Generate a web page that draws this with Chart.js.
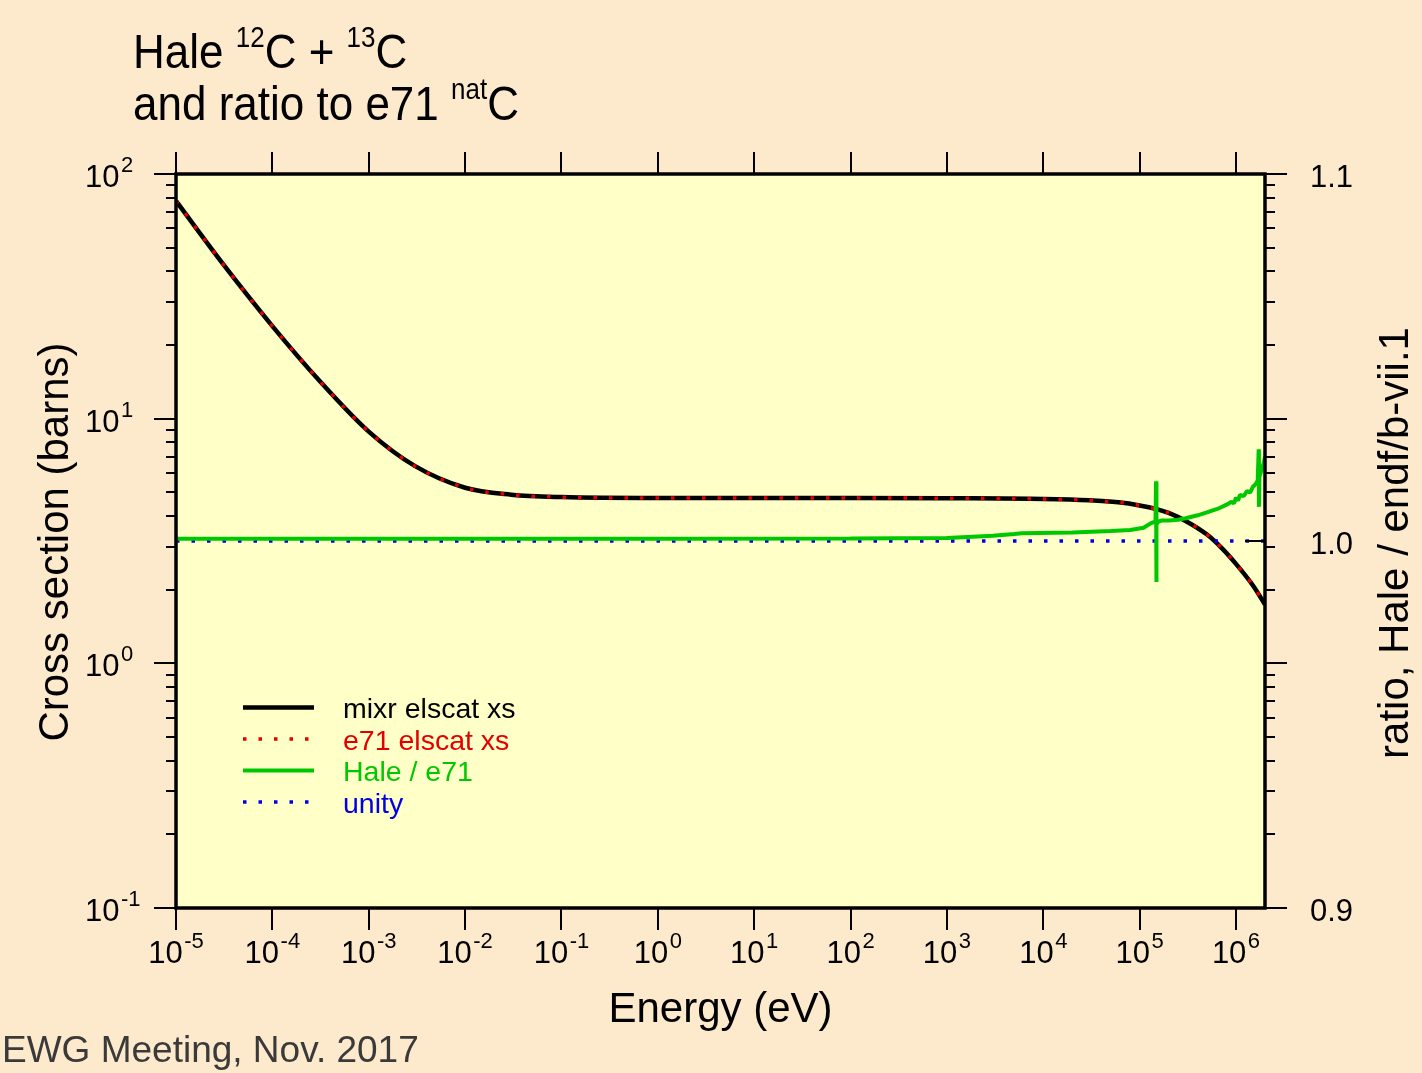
<!DOCTYPE html>
<html>
<head>
<meta charset="utf-8">
<title>Hale 12C + 13C and ratio to e71 natC</title>
<script src="https://cdn.jsdelivr.net/npm/chart.js@4/dist/chart.umd.min.js"></script>
<style>
  html, body { margin: 0; padding: 0; background: #fde9cc; }
  #wrap { position: relative; width: 1422px; height: 1073px; overflow: hidden; background: #fde9cc; }
  #c { position: absolute; left: 0; top: 0; }
  #title {
    position: absolute; left: 133px; top: 25px;
    font-family: "Liberation Sans", Arial, Helvetica, sans-serif;
    font-size: 44px; line-height: 47.3px; color: #000; white-space: nowrap;
    transform: scaleY(1.1); transform-origin: 0 0;
  }
  #title .sup { position: relative; top: -19px; font-size: 26px; line-height: 0; }
  #footer {
    position: absolute; left: 2px; top: 1030px;
    font-family: "Liberation Sans", Arial, Helvetica, sans-serif;
    font-size: 37px; line-height: 40px; color: #3a3a3a; white-space: nowrap;
  }
</style>
</head>
<body>
<div id="wrap">
  <canvas id="c" width="1422" height="1073" style="width:1422px;height:1073px"></canvas>
  <div id="title">
    <div>Hale <span class="sup">12</span>C + <span class="sup">13</span>C</div>
    <div>and ratio to e71 <span class="sup">nat</span>C</div>
  </div>
  <div id="footer">EWG Meeting, Nov. 2017</div>
</div>
<script>
// Elastic scattering cross section (barns) vs incident energy (eV)
const energyEV = [1e-5, 3e-5, 1e-4, 3e-4, 1e-3, 3e-3, 1e-2, 3e-2, 1e-1,
                  1, 10, 100, 1e3, 1e4, 3e4, 6e4, 1e5, 1.5e5, 2e5, 3e5, 5e5, 7e5, 1e6, 1.5e6, 2e6];
const mixrElscatXs = [77.6, 43.4, 23.9, 14.45, 8.85, 6.41, 5.22, 4.89, 4.78,
                      4.74, 4.74, 4.74, 4.73, 4.70, 4.64, 4.55, 4.42, 4.27, 4.12, 3.82, 3.36, 2.98, 2.55, 2.08, 1.74];
const e71ElscatXs  = [77.6, 43.4, 23.9, 14.45, 8.85, 6.41, 5.22, 4.89, 4.78,
                      4.74, 4.74, 4.74, 4.73, 4.70, 4.64, 4.55, 4.42, 4.27, 4.12, 3.82, 3.36, 2.98, 2.55, 2.08, 1.74];

// Hale / e71 ratio
const ratioEnergyEV = [1e-5, 1e-2, 1, 100, 1e3, 3e3, 5e3, 6e3, 2e4, 5e4, 8e4, 1.1e5, 1.3e5, 1.42e5, 1.46e5,
                       1.48e5, 1.49e5, 1.5e5, 1.55e5, 1.7e5, 2e5, 2.5e5, 3e5, 4e5, 5e5, 6.5e5, 8e5,
                       9e5, 9.5e5, 1.0e6, 1.05e6, 1.1e6, 1.2e6, 1.3e6, 1.4e6, 1.5e6, 1.6e6, 1.68e6,
                       1.72e6, 1.73e6, 1.75e6, 1.85e6, 1.95e6, 2e6];
const haleOverE71 = [1.0006, 1.0006, 1.0006, 1.0007, 1.0008, 1.0014, 1.0019, 1.0021, 1.0023, 1.0027, 1.0030, 1.0036, 1.0048, 1.0052, 1.0050,
                     1.0163, 0.9888, 1.0045, 1.0052, 1.0056, 1.0056, 1.0058, 1.0062, 1.0070, 1.0078, 1.0088, 1.0099,
                     1.0107, 1.0102, 1.0118, 1.0110, 1.0126, 1.0122, 1.0136, 1.0132, 1.0148, 1.0155, 1.0165,
                     1.0250, 1.0093, 1.0175, 1.0195, 1.0215, 1.0230];

// Reference line at ratio 1
const unityEnergyEV = [1e-5, 2e6];
const unityRatio = [1.0, 1.0];

// Axis ticks
const energyTickExponents = [-5, -4, -3, -2, -1, 0, 1, 2, 3, 4, 5, 6];
const xsTickExponents = [-1, 0, 1, 2];
const ratioTicks = [0.9, 1.0, 1.1];

const seriesNames = ['mixr elscat xs', 'e71 elscat xs', 'Hale / e71', 'unity'];

const FONT = '"Liberation Sans", Arial, Helvetica, sans-serif';
const PLOT_BG = '#ffffc8';
const BLACK = '#000000', RED = '#e30000', GREEN = '#00c800', BLUE = '#0000e6';

const pts = (xs, ys) => xs.map((x, i) => ({ x, y: ys[i] }));

// "10" with a raised exponent
function powLabel(ctx, exp, x, y, align) {
  const base = '10', sup = String(exp);
  ctx.font = '31px ' + FONT;
  const wb = ctx.measureText(base).width;
  ctx.font = '22px ' + FONT;
  const ws = ctx.measureText(sup).width;
  const gap = 1.5;
  const x0 = align === 'center' ? x - (wb + gap + ws) / 2 : x;
  ctx.textAlign = 'left';
  ctx.textBaseline = 'alphabetic';
  ctx.font = '31px ' + FONT;
  ctx.fillText(base, x0, y);
  ctx.font = '22px ' + FONT;
  ctx.fillText(sup, x0 + wb + gap, y - 15);
}

const framePlugin = {
  id: 'plotFrame',
  beforeDatasetsDraw(chart) {
    const { ctx, chartArea: a } = chart;
    ctx.save();
    ctx.fillStyle = PLOT_BG;
    ctx.fillRect(a.left, a.top, a.right - a.left, a.bottom - a.top);
    ctx.restore();
  },
  afterDatasetsDraw(chart) {
    const { ctx, chartArea: a } = chart;
    const { x, y, y2 } = chart.scales;
    ctx.save();
    ctx.strokeStyle = '#000';
    ctx.lineWidth = 2;
    ctx.lineCap = 'butt';
    ctx.setLineDash([]);
    ctx.beginPath();
    // energy decades, outward on bottom and top
    energyTickExponents.forEach(e => {
      const px = Math.round(x.getPixelForValue(Math.pow(10, e)));
      ctx.moveTo(px, a.bottom); ctx.lineTo(px, a.bottom + 22);
      ctx.moveTo(px, a.top); ctx.lineTo(px, a.top - 22);
    });
    // cross-section decades and minors, outward on both sides
    xsTickExponents.forEach((e, i) => {
      const py = Math.round(y.getPixelForValue(Math.pow(10, e)));
      ctx.moveTo(a.left - 22, py); ctx.lineTo(a.left, py);
      ctx.moveTo(a.right, py); ctx.lineTo(a.right + 22, py);
      if (i < xsTickExponents.length - 1) {
        for (let m = 2; m <= 9; m++) {
          const pm = Math.round(y.getPixelForValue(m * Math.pow(10, e)));
          ctx.moveTo(a.left - 10, pm); ctx.lineTo(a.left, pm);
          ctx.moveTo(a.right, pm); ctx.lineTo(a.right + 10, pm);
        }
      }
    });
    // ratio ticks, inward on the right
    ratioTicks.forEach(r => {
      const py = Math.round(y2.getPixelForValue(r));
      ctx.moveTo(a.right - 20, py); ctx.lineTo(a.right, py);
    });
    ctx.stroke();

    // frame
    ctx.lineWidth = 3.5;
    ctx.strokeRect(a.left, a.top, a.right - a.left, a.bottom - a.top);

    // tick labels
    ctx.fillStyle = '#000';
    energyTickExponents.forEach(e => {
      powLabel(ctx, e, x.getPixelForValue(Math.pow(10, e)), a.bottom + 55, 'center');
    });
    xsTickExponents.forEach(e => {
      powLabel(ctx, e, 85, y.getPixelForValue(Math.pow(10, e)) + 13, 'left');
    });
    ctx.font = '31px ' + FONT;
    ctx.textAlign = 'left';
    ctx.textBaseline = 'alphabetic';
    ratioTicks.forEach(r => {
      ctx.fillText(r.toFixed(1), 1310, y2.getPixelForValue(r) + 13);
    });

    // axis titles
    ctx.font = '42px ' + FONT;
    ctx.textAlign = 'center';
    ctx.fillText('Energy (eV)', (a.left + a.right) / 2, 1022);
    const midY = (a.top + a.bottom) / 2;
    ctx.save();
    ctx.translate(68, midY + 1);
    ctx.rotate(-Math.PI / 2);
    ctx.fillText('Cross section (barns)', 0, 0);
    ctx.restore();
    ctx.save();
    ctx.translate(1408, midY + 2);
    ctx.rotate(-Math.PI / 2);
    ctx.fillText('ratio, Hale / endf/b-vii.1', 0, 0);
    ctx.restore();

    // legend, styled from the datasets
    chart.data.datasets.forEach((ds, i) => {
      const rowY = 707.5 + i * 31.5;
      ctx.save();
      ctx.strokeStyle = ds.borderColor;
      ctx.lineWidth = ds.borderWidth;
      ctx.setLineDash(ds.borderDash || []);
      ctx.beginPath();
      ctx.moveTo(243, rowY);
      ctx.lineTo(314, rowY);
      ctx.stroke();
      ctx.restore();
      ctx.fillStyle = ds.borderColor;
      ctx.font = '28.5px ' + FONT;
      ctx.textAlign = 'left';
      ctx.textBaseline = 'alphabetic';
      ctx.fillText(ds.label, 343, rowY + 10.5);
    });
    ctx.restore();
  }
};

new Chart(document.getElementById('c'), {
  type: 'line',
  data: {
    datasets: [
      {
        label: seriesNames[0], data: pts(energyEV, mixrElscatXs), yAxisID: 'y',
        borderColor: BLACK, borderWidth: 4.5, pointRadius: 0, cubicInterpolationMode: 'monotone', order: 4
      },
      {
        label: seriesNames[1], data: pts(energyEV, e71ElscatXs), yAxisID: 'y',
        borderColor: RED, borderWidth: 3.5, borderDash: [3.5, 12], borderCapStyle: 'butt',
        pointRadius: 0, cubicInterpolationMode: 'monotone', order: 3
      },
      {
        label: seriesNames[2], data: pts(ratioEnergyEV, haleOverE71), yAxisID: 'y2',
        borderColor: GREEN, borderWidth: 4, pointRadius: 0, tension: 0, borderJoinStyle: 'bevel', order: 1
      },
      {
        label: seriesNames[3], data: pts(unityEnergyEV, unityRatio), yAxisID: 'y2',
        borderColor: BLUE, borderWidth: 3.5, borderDash: [3.5, 12], borderCapStyle: 'butt',
        pointRadius: 0, order: 2
      }
    ]
  },
  options: {
    responsive: false,
    maintainAspectRatio: false,
    animation: false,
    events: [],
    layout: { padding: { top: 174, left: 0, right: 0, bottom: 0 } },
    plugins: { legend: { display: false }, tooltip: { enabled: false }, title: { display: false } },
    scales: {
      x: {
        type: 'logarithmic', position: 'bottom', min: 1e-5, max: 2e6,
        ticks: { display: false }, grid: { display: false }, border: { display: false },
        afterFit(s) { s.height = 1073 - 908; }
      },
      y: {
        type: 'logarithmic', position: 'left', min: 0.1, max: 100,
        ticks: { display: false }, grid: { display: false }, border: { display: false },
        afterFit(s) { s.width = 176; }
      },
      y2: {
        type: 'linear', position: 'right', min: 0.9, max: 1.1,
        ticks: { display: false }, grid: { display: false }, border: { display: false },
        afterFit(s) { s.width = 1422 - 1265; }
      }
    }
  },
  plugins: [framePlugin]
});
</script>
</body>
</html>
